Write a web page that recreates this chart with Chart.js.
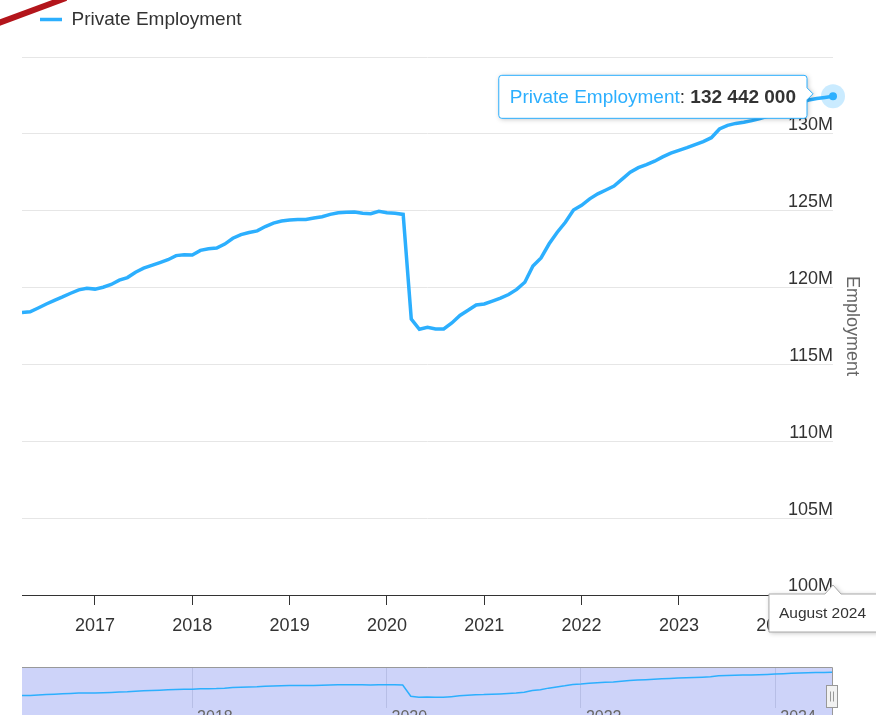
<!DOCTYPE html>
<html>
<head>
<meta charset="utf-8">
<script src="https://cdn.jsdelivr.net/npm/chart.js@4.4.1/dist/chart.umd.min.js"></script>
<style>
  html, body { margin: 0; padding: 0; background: #fff; overflow: hidden; width: 876px; height: 715px; position: relative; }
  #mainChart { position: absolute; left: 0; top: -8px; }
  #navChart { position: absolute; left: 0; top: 667px; }
</style>
</head>
<body>
<canvas id="mainChart" width="876" height="660"></canvas>
<canvas id="navChart" width="876" height="60"></canvas>
<script>
// monthly data, values in millions of jobs
const months = [
  '2016-04','2016-05','2016-06','2016-07','2016-08','2016-09','2016-10','2016-11','2016-12',
  '2017-01','2017-02','2017-03','2017-04','2017-05','2017-06','2017-07','2017-08','2017-09','2017-10','2017-11','2017-12',
  '2018-01','2018-02','2018-03','2018-04','2018-05','2018-06','2018-07','2018-08','2018-09','2018-10','2018-11','2018-12',
  '2019-01','2019-02','2019-03','2019-04','2019-05','2019-06','2019-07','2019-08','2019-09','2019-10','2019-11','2019-12',
  '2020-01','2020-02','2020-03','2020-04','2020-05','2020-06','2020-07','2020-08','2020-09','2020-10','2020-11','2020-12',
  '2021-01','2021-02','2021-03','2021-04','2021-05','2021-06','2021-07','2021-08','2021-09','2021-10','2021-11','2021-12',
  '2022-01','2022-02','2022-03','2022-04','2022-05','2022-06','2022-07','2022-08','2022-09','2022-10','2022-11','2022-12',
  '2023-01','2023-02','2023-03','2023-04','2023-05','2023-06','2023-07','2023-08','2023-09','2023-10','2023-11','2023-12',
  '2024-01','2024-02','2024-03','2024-04','2024-05','2024-06','2024-07','2024-08'
];
const employment = [
  118.38, 118.42, 118.67, 118.93, 119.17, 119.39, 119.63, 119.85, 119.96,
  119.90, 120.02, 120.20, 120.48, 120.65, 121.00, 121.26, 121.44, 121.62, 121.81, 122.08, 122.14,
  122.12, 122.42, 122.53, 122.57, 122.83, 123.21, 123.45, 123.58, 123.69, 123.97, 124.19, 124.33,
  124.39, 124.43, 124.43, 124.52, 124.61, 124.76, 124.87, 124.90, 124.92, 124.83, 124.81, 124.96,
  124.87, 124.83, 124.76, 117.95, 117.29, 117.42, 117.31, 117.31, 117.70, 118.19, 118.52, 118.87,
  118.93, 119.12, 119.31, 119.55, 119.88, 120.35, 121.40, 121.93, 122.85, 123.60, 124.25, 125.05,
  125.35, 125.77, 126.10, 126.35, 126.60, 127.05, 127.50, 127.80, 128.00, 128.22, 128.50, 128.75,
  128.93, 129.10, 129.30, 129.50, 129.75, 130.32, 130.55, 130.68, 130.76, 130.86, 131.00, 131.15,
  131.35, 131.55, 131.80, 132.05, 132.20, 132.30, 132.37, 132.442
];
const monthNames = ['January','February','March','April','May','June','July',
  'August','September','October','November','December'];
const seriesName = 'Private Employment';
const axisTitle = 'Employment';

const lineColor = '#2caffe';
const fontFamily = '"Liberation Sans", Arial, Helvetica, sans-serif';
Chart.defaults.font.family = fontFamily;

function toYear(label) {
  const [y, m] = label.split('-').map(Number);
  return y + (m - 1) / 12;
}
const points = months.map((m, i) => ({ x: toYear(m), y: employment[i] }));
const xMin = toYear(months[0]);
const xMax = toYear(months[months.length - 1]);
const hoverIndex = employment.length - 1;

function fmtNumber(v) {
  return String(Math.round(v * 1e6)).replace(/\B(?=(\d{3})+(?!\d))/g, ' ');
}
function monthLabel(label) {
  const [y, m] = label.split('-').map(Number);
  return monthNames[m - 1] + ' ' + y;
}

// hover marker, tooltip and crosshair label for the last point
const hoverPlugin = {
  id: 'hoverBox',
  afterDraw(chart) {
    const ctx = chart.ctx;
    const pt = chart.getDatasetMeta(0).data[hoverIndex];
    const area = chart.chartArea;
    ctx.save();

    // corner ribbon
    ctx.strokeStyle = '#b3151b';
    ctx.lineWidth = 6;
    ctx.beginPath();
    ctx.moveTo(-4, 32);
    ctx.lineTo(66, 6);
    ctx.stroke();

    // halo + point
    ctx.beginPath();
    ctx.arc(pt.x, pt.y, 12, 0, Math.PI * 2);
    ctx.fillStyle = 'rgba(44,175,254,0.25)';
    ctx.fill();
    ctx.beginPath();
    ctx.arc(pt.x, pt.y, 4, 0, Math.PI * 2);
    ctx.fillStyle = lineColor;
    ctx.fill();

    // tooltip box
    const parts = [
      { t: seriesName, c: lineColor, f: '19px ' + fontFamily },
      { t: ': ', c: '#333', f: '19px ' + fontFamily },
      { t: fmtNumber(employment[hoverIndex]), c: '#333', f: 'bold 19px ' + fontFamily }
    ];
    let tw = 0;
    parts.forEach(p => { ctx.font = p.f; p.w = ctx.measureText(p.t).width; tw += p.w; });
    const w = tw + 22, h = 43;
    const right = pt.x - 26, left = right - w;
    const top = pt.y - 21, cy = top + h / 2 - 3;
    const r = 3;
    ctx.beginPath();
    ctx.moveTo(left + r, top);
    ctx.lineTo(right - r, top);
    ctx.quadraticCurveTo(right, top, right, top + r);
    ctx.lineTo(right, cy - 6);
    ctx.lineTo(right + 6, cy);
    ctx.lineTo(right, cy + 6);
    ctx.lineTo(right, top + h - r);
    ctx.quadraticCurveTo(right, top + h, right - r, top + h);
    ctx.lineTo(left + r, top + h);
    ctx.quadraticCurveTo(left, top + h, left, top + h - r);
    ctx.lineTo(left, top + r);
    ctx.quadraticCurveTo(left, top, left + r, top);
    ctx.closePath();
    ctx.shadowColor = 'rgba(0,0,0,0.25)';
    ctx.shadowBlur = 5;
    ctx.shadowOffsetX = 1;
    ctx.shadowOffsetY = 1;
    ctx.fillStyle = '#fff';
    ctx.fill();
    ctx.shadowColor = 'transparent';
    ctx.strokeStyle = lineColor;
    ctx.lineWidth = 1;
    ctx.stroke();
    ctx.textBaseline = 'middle';
    ctx.textAlign = 'left';
    let tx = left + 11;
    parts.forEach(p => {
      ctx.font = p.f;
      ctx.fillStyle = p.c;
      ctx.fillText(p.t, tx, top + h / 2 + 0.5);
      tx += p.w;
    });

    // crosshair label on x axis
    const lab = monthLabel(months[hoverIndex]);
    ctx.font = '15.5px ' + fontFamily;
    const lw = ctx.measureText(lab).width + 20, lh = 38;
    const lx = Math.min(pt.x - lw / 2, chart.width - lw);
    const ly = area.bottom - 1;
    ctx.beginPath();
    ctx.moveTo(lx, ly);
    ctx.lineTo(pt.x - 8, ly);
    ctx.lineTo(pt.x, ly - 9);
    ctx.lineTo(pt.x + 8, ly);
    ctx.lineTo(lx + lw + 4, ly);
    ctx.lineTo(lx + lw + 4, ly + lh);
    ctx.lineTo(lx, ly + lh);
    ctx.closePath();
    ctx.shadowColor = 'rgba(0,0,0,0.25)';
    ctx.shadowBlur = 5;
    ctx.shadowOffsetX = 1;
    ctx.shadowOffsetY = 1;
    ctx.fillStyle = '#fff';
    ctx.fill();
    ctx.shadowColor = 'transparent';
    ctx.strokeStyle = '#aaa';
    ctx.stroke();
    ctx.fillStyle = '#333';
    ctx.fillText(lab, lx + 10, ly + lh / 2 + 1);
    ctx.restore();
  }
};

new Chart(document.getElementById('mainChart').getContext('2d'), {
  type: 'line',
  data: {
    datasets: [{
      label: seriesName,
      data: points,
      borderColor: lineColor,
      backgroundColor: lineColor,
      borderWidth: 3.5,
      pointRadius: 0,
      tension: 0,
      fill: false
    }]
  },
  options: {
    responsive: false,
    animation: false,
    events: [],
    layout: { padding: { left: 22, right: 13.4, top: 0, bottom: 5.4 } },
    plugins: {
      tooltip: { enabled: false },
      legend: {
        position: 'top',
        align: 'start',
        labels: {
          usePointStyle: true,
          pointStyle: 'line',
          pointStyleWidth: 22,
          padding: 18,
          color: '#333',
          font: { size: 19 }
        }
      },
      // empty title used as a spacer between legend and plot
      title: {
        display: true,
        text: '',
        weight: 500,
        padding: { top: 17, bottom: 0 },
        font: { size: 1, lineHeight: 1 }
      }
    },
    scales: {
      x: {
        type: 'linear',
        min: xMin,
        max: xMax,
        grid: { drawOnChartArea: false, drawTicks: true, tickLength: 10, tickColor: '#333' },
        border: { color: '#333', width: 1 },
        ticks: {
          stepSize: 1,
          includeBounds: false,
          autoSkip: false,
          maxRotation: 0,
          padding: 10,
          color: '#333',
          font: { size: 18 },
          callback: v => String(v)
        }
      },
      y: {
        position: 'right',
        min: 100,
        max: 135,
        grid: { color: '#e6e6e6', drawTicks: false },
        border: { display: false },
        ticks: {
          stepSize: 5,
          includeBounds: false,
          mirror: true,
          padding: 0,
          labelOffset: -8.5,
          color: '#333',
          font: { size: 18 },
          callback: v => (v >= 135 ? '' : v + 'M')
        },
        title: {
          display: true,
          text: axisTitle,
          color: '#666',
          font: { size: 18 },
          padding: { top: 0, bottom: 8 }
        }
      }
    }
  },
  plugins: [hoverPlugin]
});

// navigator strip
const navPlugin = {
  id: 'navMask',
  beforeDraw(chart) {
    const { ctx, chartArea: a } = chart;
    ctx.save();
    ctx.fillStyle = '#cdd3f9';
    ctx.fillRect(a.left, a.top, a.right - a.left, chart.height - a.top);
    ctx.restore();
  },
  afterDraw(chart) {
    const { ctx, chartArea: a } = chart;
    ctx.save();
    ctx.strokeStyle = '#999';
    ctx.lineWidth = 1;
    ctx.beginPath();
    ctx.moveTo(a.left, a.top + 0.5);
    ctx.lineTo(a.right + 0.5, a.top + 0.5);
    ctx.lineTo(a.right + 0.5, chart.height);
    ctx.stroke();
    // right handle
    const hx = a.right - 5.5, hy = 18.5;
    ctx.fillStyle = '#f2f2f2';
    ctx.fillRect(hx, hy, 11, 22);
    ctx.strokeRect(hx, hy, 11, 22);
    ctx.beginPath();
    ctx.moveTo(hx + 4, hy + 6); ctx.lineTo(hx + 4, hy + 16);
    ctx.moveTo(hx + 7, hy + 6); ctx.lineTo(hx + 7, hy + 16);
    ctx.stroke();
    ctx.restore();
  }
};

new Chart(document.getElementById('navChart').getContext('2d'), {
  type: 'line',
  data: {
    datasets: [{
      data: points,
      borderColor: lineColor,
      borderWidth: 1.5,
      pointRadius: 0,
      fill: false
    }]
  },
  options: {
    responsive: false,
    animation: false,
    events: [],
    layout: { padding: { left: 22, right: 44, top: 0, bottom: 0 } },
    plugins: { legend: { display: false }, tooltip: { enabled: false } },
    scales: {
      x: {
        type: 'linear',
        min: xMin,
        max: xMax,
        grid: { color: '#b7bee6', drawTicks: false },
        border: { display: false },
        ticks: {
          stepSize: 2,
          includeBounds: false,
          align: 'start',
          labelOffset: 5,
          padding: 0,
          maxRotation: 0,
          color: '#666',
          font: { size: 16 },
          callback: v => String(v)
        }
      },
      y: { display: false, min: 110.94, max: 135.65 }
    }
  },
  plugins: [navPlugin]
});
</script>
</body>
</html>
